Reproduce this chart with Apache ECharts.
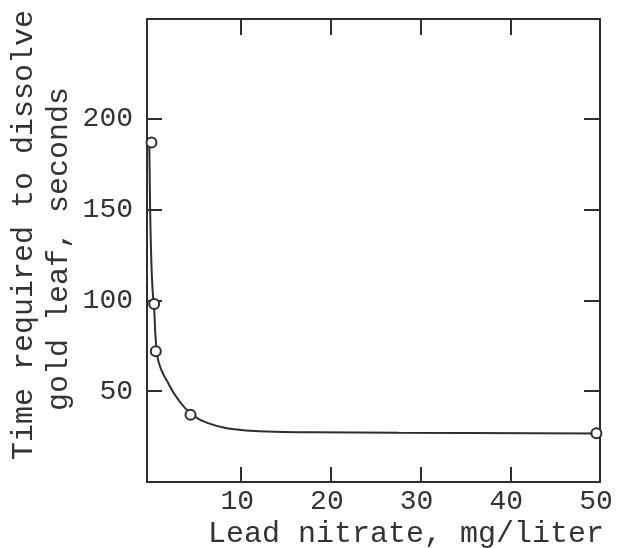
<!DOCTYPE html>
<html>
<head>
<meta charset="utf-8">
<script src="https://cdn.jsdelivr.net/npm/echarts@6.0.0/dist/echarts.min.js"></script>
<style>
  html, body { margin: 0; padding: 0; background: #fff; }
  #chart { width: 617px; height: 548px; }
</style>
</head>
<body>
<div id="chart"></div>
<script>
// measured points (lead nitrate mg/l, seconds)
const pointsX = [0, 0.3, 0.48, 4.35, 49.6];
const pointsY = [187, 98, 72, 37, 26.8];

// fitted curve
const curveX = [-0.25, -0.15, -0.02, 0.12, 0.3, 0.48, 0.8, 1.86, 2.97, 4.35, 6.3, 9, 12.8, 18, 27.6, 50];
const curveY = [187, 150, 122, 106, 95, 78, 66, 54.5, 45.5, 38, 32.4, 29.2, 27.8, 27.4, 27.1, 26.7];

const xTicks = [10, 20, 30, 40];
const xLabels = [10, 20, 30, 40, 50];
const yTicks = [50, 100, 150, 200];

const ink = "#2e2e2e";
const font = "'Liberation Mono', 'DejaVu Sans Mono', monospace";

const frameAxis = {
  axisLine: { show: true, onZero: false, lineStyle: { color: ink, width: 2 } },
  splitLine: { show: false },
};

const option = {
  backgroundColor: "#fff",
  animation: false,
  grid: { left: 147, right: 17, top: 19, bottom: 66 },
  xAxis: [
    {
      ...frameAxis,
      type: "value",
      position: "bottom",
      min: -0.5,
      max: 50,
      axisTick: { show: true, inside: true, length: 15, customValues: xTicks, lineStyle: { color: ink, width: 2 } },
      axisLabel: {
        customValues: xLabels,
        color: "#333",
        fontFamily: font,
        fontSize: 28,
        margin: 6,
        padding: [0, 8, 0, 0],
      },
    },
    {
      ...frameAxis,
      type: "value",
      position: "top",
      min: -0.5,
      max: 50,
      axisTick: { show: true, inside: true, length: 16, customValues: xTicks, lineStyle: { color: ink, width: 2 } },
      axisLabel: { show: false },
    },
  ],
  yAxis: [
    {
      ...frameAxis,
      type: "value",
      position: "left",
      min: 0,
      max: 255,
      axisTick: { show: true, inside: true, length: 15, customValues: yTicks, lineStyle: { color: ink, width: 2 } },
      axisLabel: {
        customValues: yTicks,
        color: "#333",
        fontFamily: font,
        fontSize: 28,
        margin: 14,
        padding: [0, 0, 10, 0],
      },
    },
    {
      ...frameAxis,
      type: "value",
      position: "right",
      min: 0,
      max: 255,
      axisTick: { show: true, inside: true, length: 16, customValues: yTicks, lineStyle: { color: ink, width: 2 } },
      axisLabel: { show: false },
    },
  ],
  graphic: [
    {
      type: "text",
      x: 406,
      y: 534,
      style: {
        text: "Lead nitrate, mg/liter",
        fill: "#333",
        font: "30px " + font,
        align: "center",
        verticalAlign: "middle",
      },
    },
    {
      type: "text",
      x: 24,
      y: 235,
      rotation: Math.PI / 2,
      style: {
        text: "Time required to dissolve",
        fill: "#333",
        font: "30px " + font,
        align: "center",
        verticalAlign: "middle",
      },
    },
    {
      type: "text",
      x: 59,
      y: 249,
      rotation: Math.PI / 2,
      style: {
        text: "gold leaf, seconds",
        fill: "#333",
        font: "30px " + font,
        align: "center",
        verticalAlign: "middle",
      },
    },
  ],
  series: [
    {
      type: "line",
      smooth: 0.5,
      showSymbol: false,
      clip: true,
      lineStyle: { color: ink, width: 2 },
      data: curveX.map((x, i) => [x, curveY[i]]),
      z: 2,
    },
    {
      type: "scatter",
      symbol: "circle",
      symbolSize: 10,
      itemStyle: { color: "#fff", opacity: 1, borderColor: ink, borderWidth: 2 },
      data: pointsX.map((x, i) => [x, pointsY[i]]),
      z: 3,
    },
  ],
};

const chart = echarts.init(document.getElementById("chart"));
chart.setOption(option);
</script>
</body>
</html>
